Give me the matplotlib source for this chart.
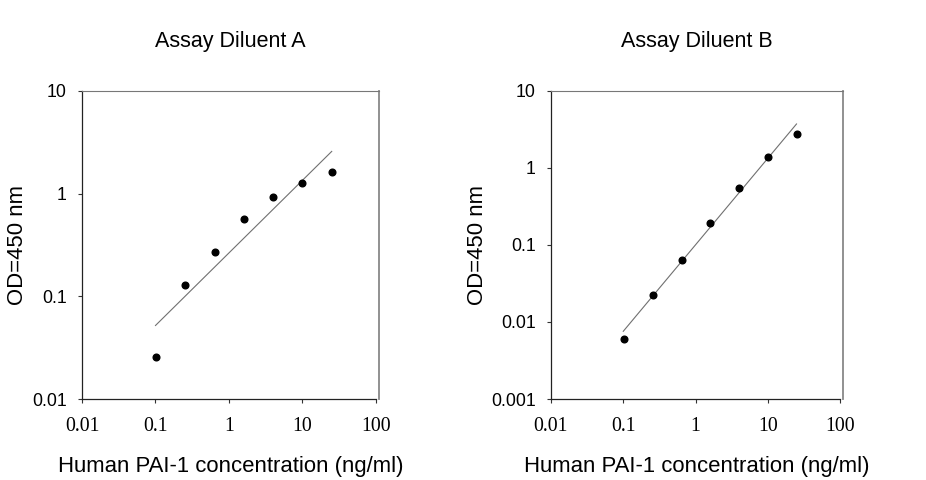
import numpy as np
import matplotlib
matplotlib.use("Agg")
import matplotlib.pyplot as plt

plt.rcParams['font.family'] = ['Liberation Sans', 'DejaVu Sans']

# concentrations (ng/ml), same dilution series for both panels
conc = [0.1024, 0.256, 0.64, 1.6, 4.0, 10.0, 25.0]

# Assay Diluent A
od_a = [0.0259, 0.129, 0.270, 0.567, 0.921, 1.26, 1.63]
fit_a_x = [0.1, 25.0]
fit_a_y = [0.052, 2.58]

# Assay Diluent B
od_b = [0.00608, 0.0226, 0.0639, 0.195, 0.550, 1.40, 2.79]
fit_b_x = [0.1, 25.0]
fit_b_y = [0.00757, 3.73]

x_ticks = [0.01, 0.1, 1, 10, 100]
x_ticklabels = ['0.01', '0.1', '1', '10', '100']
y_ticks_a = [0.01, 0.1, 1, 10]
y_ticklabels_a = ['0.01', '0.1', '1', '10']
y_ticks_b = [0.001, 0.01, 0.1, 1, 10]
y_ticklabels_b = ['0.001', '0.01', '0.1', '1', '10']

fig = plt.figure(figsize=(9.26, 4.80), dpi=100)
ax1 = fig.add_axes([82 / 926, 81 / 480, 297 / 926, 308 / 480])
ax2 = fig.add_axes([551 / 926, 81 / 480, 292 / 926, 308 / 480])


def style_panel(ax, title, y_ticks, y_labels, ylabel_x):
    ax.set_xscale('log')
    ax.set_yscale('log')
    ax.set_xlim(0.01, 110)
    ax.set_ylim(y_ticks[0], y_ticks[-1])
    ax.set_xticks(x_ticks)
    ax.set_xticklabels(x_ticklabels, family='Liberation Serif', fontsize=14.3)
    ax.set_yticks(y_ticks)
    ax.set_yticklabels(y_labels, fontsize=12.8)
    ax.minorticks_off()
    ax.tick_params(axis='both', direction='out', length=3, width=0.8, color='#333333')
    ax.tick_params(axis='x', pad=10)
    ax.tick_params(axis='y', pad=8)
    ax.spines['bottom'].set_bounds(0.01, 100)
    ax.spines['left'].set_color('#222222')
    ax.spines['bottom'].set_color('#222222')
    ax.spines['left'].set_linewidth(0.9)
    ax.spines['bottom'].set_linewidth(0.9)
    ax.spines['top'].set_color('#777777')
    ax.spines['top'].set_linewidth(0.8)
    ax.spines['right'].set_color('#888888')
    ax.spines['right'].set_linewidth(1.3)
    ax.set_title(title, fontsize=15.5, pad=32)
    ax.set_xlabel('Human PAI-1 concentration (ng/ml)', fontsize=15.9)
    ax.set_ylabel('OD=450 nm', fontsize=15.9)
    ax.xaxis.set_label_coords(0.5, -0.186)
    ax.yaxis.set_label_coords(ylabel_x, 0.5)


ax1.plot(fit_a_x, fit_a_y, color='#707070', lw=0.8)
ax1.plot(conc, od_a, 'o', color='black', ms=4.8)
style_panel(ax1, 'Assay Diluent A', y_ticks_a, y_ticklabels_a, -0.182)

ax2.plot(fit_b_x, fit_b_y, color='#707070', lw=0.8)
ax2.plot(conc, od_b, 'o', color='black', ms=4.8)
style_panel(ax2, 'Assay Diluent B', y_ticks_b, y_ticklabels_b, -0.216)

fig.savefig('out.png', dpi=100)
